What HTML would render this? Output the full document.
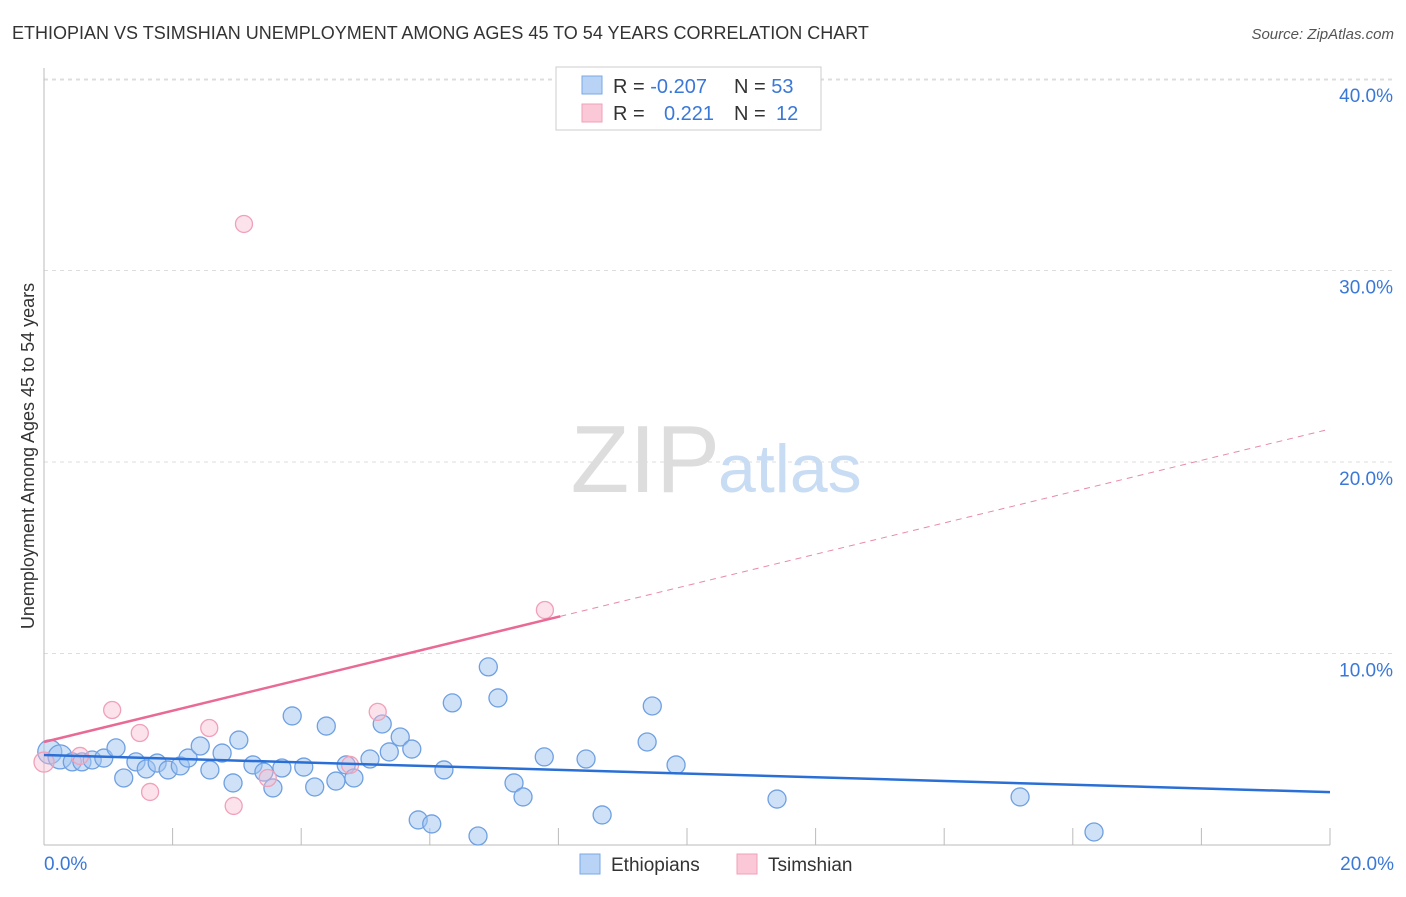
<!DOCTYPE html>
<html><head><meta charset="utf-8"><style>
body{margin:0;background:#fff;font-family:"Liberation Sans",sans-serif;}
svg text{font-family:"Liberation Sans",sans-serif;}
</style></head><body>
<svg id="chart" width="1406" height="892">
<text x="12" y="39" font-size="18" fill="#333">ETHIOPIAN VS TSIMSHIAN UNEMPLOYMENT AMONG AGES 45 TO 54 YEARS CORRELATION CHART</text>
<text x="1394" y="39" font-size="15" fill="#555" font-style="italic" text-anchor="end">Source: ZipAtlas.com</text>
<text x="34" y="456" font-size="18" fill="#333" text-anchor="middle" transform="rotate(-90 34 456)">Unemployment Among Ages 45 to 54 years</text>
<g id="grid"></g>
<text x="720" y="492" font-size="96" fill="#ddd" text-anchor="end" font-family="Liberation Serif">ZIP</text>
<text x="718" y="492" font-size="68" fill="#c8dcf4">atlas</text>
<g id="marks"></g>
<g>
<rect x="556" y="67" width="265" height="63" fill="#fff" stroke="#ccc"/>
<rect x="582" y="76" width="20" height="18" fill="#b8d3f5" stroke="#7aa8e6"/>
<rect x="582" y="104" width="20" height="18" fill="#fbc8d7" stroke="#f0a0b8"/>
<text x="613" y="93" font-size="20" fill="#333">R = <tspan fill="#3a78d8">-0.207</tspan><tspan x="734">N = </tspan><tspan fill="#3a78d8">53</tspan></text>
<text x="613" y="120" font-size="20" fill="#333">R = <tspan x="664" fill="#3a78d8">0.221</tspan><tspan x="734">N = </tspan><tspan x="776" fill="#3a78d8">12</tspan></text>
</g>
<g>
<rect x="580" y="854" width="20" height="20" fill="#b8d3f5" stroke="#7aa8e6"/>
<text x="611" y="871" font-size="19" fill="#333">Ethiopians</text>
<rect x="737" y="854" width="20" height="20" fill="#fbc8d7" stroke="#f0a0b8"/>
<text x="768" y="871" font-size="19" fill="#333">Tsimshian</text>
</g>
</svg>
<script>
const blueX=[0.09,0.25,0.44,0.59,0.75,0.93,1.12,1.24,1.43,1.59,1.76,1.93,2.12,2.24,2.43,2.58,2.77,2.94,3.03,3.25,3.42,3.56,3.70,3.86,4.04,4.21,4.39,4.54,4.70,4.82,5.07,5.26,5.37,5.54,5.72,5.82,6.03,6.22,6.35,6.75,6.91,7.06,7.31,7.45,7.78,8.43,8.68,9.38,9.46,9.83,11.40,15.18,16.33];
const blueY=[4.86,4.60,4.34,4.34,4.44,4.54,5.07,3.50,4.34,3.97,4.28,3.92,4.13,4.54,5.17,3.92,4.80,3.24,5.48,4.18,3.81,2.98,4.02,6.74,4.07,3.03,6.21,3.34,4.18,3.50,4.49,6.32,4.86,5.64,5.01,1.31,1.10,3.92,7.42,0.47,9.30,7.68,3.24,2.51,4.60,4.49,1.57,5.38,7.26,4.18,2.40,2.51,0.68];
const pinkX=[0.0,0.56,1.06,1.49,1.65,2.57,2.95,3.11,3.48,4.76,5.19,7.79];
const pinkY=[4.33,4.65,7.05,5.85,2.77,6.11,2.04,32.43,3.50,4.18,6.95,12.27];
const blueTrend=[4.70,2.76];   // y at x=0 and x=20
const pinkTrend=[5.38,21.72];  // y at x=0 and x=20
const pinkSolidEnd=8.03;
const yTicks=[10,20,30,40];
const xTickVals=[2,4,6,8,10,12,14,16,18,20];
const xLabels=["0.0%","20.0%"];

const NS="http://www.w3.org/2000/svg";
const X=v=>44+v/20*1286;
const Y=v=>845-v*19.15;
function mk(tag,attrs,parent){const e=document.createElementNS(NS,tag);for(const k in attrs)e.setAttribute(k,attrs[k]);parent.appendChild(e);return e;}
const grid=document.getElementById('grid'), marks=document.getElementById('marks');
let e;
e=mk('line',{x1:44,y1:80,x2:1394,y2:80,stroke:'#ddd','stroke-dasharray':'4 4'},grid);


yTicks.forEach(t=>{
 e=mk('line',{x1:44,y1:Y(t),x2:1394,y2:Y(t),stroke:'#ddd','stroke-dasharray':'4 4'},grid);
 
 
 e=mk('text',{x:1393,y:Y(t)+23,'font-size':19,fill:'#3a78d8','text-anchor':'end'},grid);
 e.textContent=t.toFixed(1)+'%';
 
 
});
e=mk('line',{x1:44,y1:68,x2:44,y2:845,stroke:'#bbb'},grid);


e=mk('line',{x1:44,y1:845,x2:1330,y2:845,stroke:'#bbb'},grid);


xTickVals.forEach(t=>{
 e=mk('line',{x1:X(t),y1:828,x2:X(t),y2:845,stroke:'#bbb'},grid);
 
 
});
e=mk('text',{x:44,y:870,'font-size':19,fill:'#3a78d8'},grid);e.textContent=xLabels[0];


e=mk('text',{x:1394,y:870,'font-size':19,fill:'#3a78d8','text-anchor':'end'},grid);e.textContent=xLabels[1];



blueX.forEach((x,i)=>{
 e=mk('circle',{cx:X(x),cy:Y(blueY[i]),r:i<2?12:9,fill:'rgba(160,196,240,0.5)',stroke:'#6fa0e2','stroke-width':1.3},marks);
 
 
});
pinkX.forEach((x,i)=>{
 e=mk('circle',{cx:X(x),cy:Y(pinkY[i]),r:i==0?10:8.5,fill:'rgba(248,185,205,0.4)',stroke:'#f0a0b8','stroke-width':1.3},marks);
 
 
});
const pAt=x=>pinkTrend[0]+(pinkTrend[1]-pinkTrend[0])*x/20;
e=mk('line',{x1:X(0),y1:Y(blueTrend[0]),x2:X(20),y2:Y(blueTrend[1]),stroke:'#2a6fd6','stroke-width':2.5},marks);


e=mk('line',{x1:X(0),y1:Y(pAt(0)),x2:X(pinkSolidEnd),y2:Y(pAt(pinkSolidEnd)),stroke:'#e86a95','stroke-width':2.5},marks);


e=mk('line',{x1:X(pinkSolidEnd),y1:Y(pAt(pinkSolidEnd)),x2:X(20),y2:Y(pAt(20)),stroke:'#e88aa8','stroke-width':1,'stroke-dasharray':'6 5'},marks);


</script>
</body></html>
